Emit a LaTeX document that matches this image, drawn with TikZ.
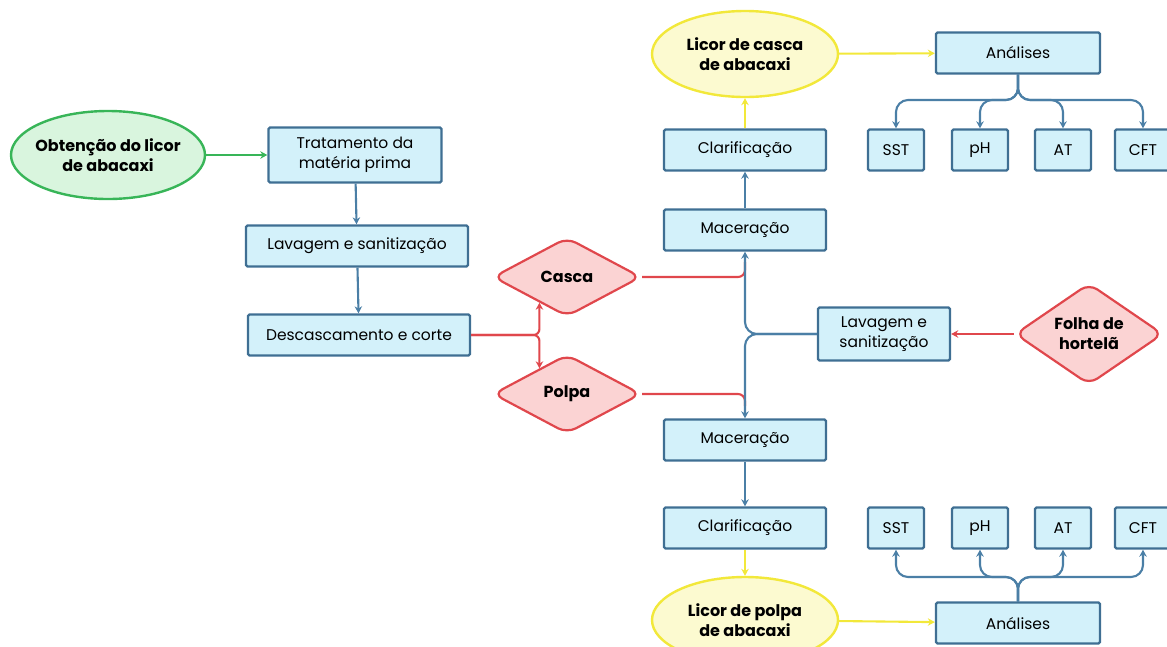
\documentclass[tikz,border=0pt]{standalone}
\usepackage{fontspec}
\setsansfont{Poppins}
\usepackage{xcolor}
\usepackage{tikz}
\usetikzlibrary{arrows.meta,calc,positioning,shapes.geometric}
\definecolor{lcBlue}{HTML}{3F6F93}
\definecolor{lcArrow}{HTML}{4B7FA6}
\definecolor{lcSky}{HTML}{D3F1FA}
\definecolor{lcRed}{HTML}{E0474C}
\definecolor{lcRose}{HTML}{FBD3D3}
\definecolor{lcGreen}{HTML}{38B558}
\definecolor{lcMint}{HTML}{D9F5DE}
\definecolor{lcYellow}{HTML}{F2E83A}
\definecolor{lcCream}{HTML}{FCFAD0}
\newcommand{\lcfont}{\sffamily\fontsize{15.5}{20}\selectfont}
\newcommand{\lcbold}{\sffamily\fontsize{16}{20}\selectfont\bfseries}
\tikzset{
  lcbox/.style={
    rectangle,
    rounded corners=1.5pt,
    draw=lcBlue,
    fill=lcSky,
    line width=2.4pt,
    align=center,
    inner sep=0pt,
    minimum height=41pt,
    font=\lcfont
  },
  lcleaf/.style={
    diamond,
    rounded corners=10pt,
    draw=lcRed,
    fill=lcRose,
    line width=2.2pt,
    align=center,
    inner sep=0pt,
    minimum width=148pt,
    minimum height=79pt,
    font=\lcbold
  },
  lcoval/.style={
    ellipse,
    draw=#1,
    fill=#1!20,
    line width=2.4pt,
    align=center,
    inner xsep=-8pt,
    inner ysep=0pt,
    minimum width=186pt,
    minimum height=86pt,
    font=\lcbold
  },
  lcarrow/.style={-{Stealth[length=7pt,width=7.5pt]}, line width=2.1pt, draw=#1},
  lcline/.style={line width=2.1pt, draw=#1}
}

\begin{document}
\begin{tikzpicture}[x=1pt,y=-1pt,font=\sffamily]
  \useasboundingbox (0,0) rectangle (1167,646);

  % left column
  \node[lcoval=lcGreen, fill=lcMint, minimum width=194pt, minimum height=88pt] (obtencao) at (108,155) {Obtenção do licor\\de abacaxi};
  \node[lcbox, minimum width=173pt, minimum height=55pt] (tratamento) at (355,155) {Tratamento da\\matéria prima};
  \node[lcbox, minimum width=222pt] (lavagem) at (357,246) {Lavagem e sanitização};
  \node[lcbox, minimum width=222pt] (descasca) at (359,335) {Descascamento e corte};

  \node[lcleaf] (casca) at (567,277) {Casca};
  \node[lcleaf] (polpa) at (567,394) {Polpa};

  % middle column
  \node[lcoval=lcYellow, fill=lcCream] (licorcasca) at (745,54) {Licor de casca\\de abacaxi};
  \node[lcbox, minimum width=162pt] (clarcasca) at (745,150) {Clarificação};
  \node[lcbox, minimum width=162pt] (maccasca) at (745,230) {Maceração};
  \node[lcbox, minimum width=162pt] (macpolpa) at (745,440) {Maceração};
  \node[lcbox, minimum width=162pt] (clarpolpa) at (745,528) {Clarificação};
  \node[lcoval=lcYellow, fill=lcCream] (licorpolpa) at (745,620) {Licor de polpa\\de abacaxi};

  \node[lcbox, minimum width=132pt, minimum height=53pt] (lavhortela) at (884,334) {Lavagem e\\sanitização};
  \node[lcleaf, minimum height=81pt] (hortela) at (1089,334) {Folha de\\hortelã};

  % analyses
  \node[lcbox, minimum width=164pt] (anacasca) at (1018,53) {Análises};
  \node[lcbox, minimum width=164pt] (anapolpa) at (1018,623) {Análises};
  \foreach \nm/\xx/\txt in {sst/896/SST, ph/980/pH, at/1063/AT, cft/1143/CFT} {
    \node[lcbox, minimum width=56pt] (\nm casca) at (\xx,150) {\txt};
    \node[lcbox, minimum width=56pt] (\nm polpa) at (\xx,528) {\txt};
  }
  \coordinate (buscasca) at (1018,100);
  \coordinate (buspolpa) at (1018,577);
  \coordinate (joincasca) at (745,262);
  \coordinate (joinpolpa) at (745,406);

  % connectors
  \draw[lcarrow=lcGreen] (obtencao) -- (tratamento);
  \draw[lcarrow=lcArrow] (tratamento) -- (lavagem);
  \draw[lcarrow=lcArrow] (lavagem) -- (descasca);
  \draw[lcarrow=lcRed, rounded corners=6pt] (descasca.east) -| (casca.223);
  \draw[lcarrow=lcRed, rounded corners=6pt] (descasca.east) -| (polpa.137);
  \draw[lcline=lcRed, rounded corners=7pt] (casca.east) -| (joincasca);
  \draw[lcline=lcRed, rounded corners=7pt] (polpa.east) -| (joinpolpa);
  \draw[lcarrow=lcRed] (hortela) -- (lavhortela);
  \draw[lcarrow=lcArrow, rounded corners=12pt] (lavhortela.west) -| (maccasca.south);
  \draw[lcarrow=lcArrow, rounded corners=12pt] (lavhortela.west) -| (macpolpa.north);
  \draw[lcarrow=lcArrow] (maccasca) -- (clarcasca);
  \draw[lcarrow=lcArrow, line width=2.6pt] (macpolpa) -- (clarpolpa);
  \draw[lcarrow=lcYellow] (clarcasca) -- (licorcasca);
  \draw[lcarrow=lcYellow] (clarpolpa) -- (licorpolpa);
  \draw[lcarrow=lcYellow] (licorcasca) -- (anacasca);
  \draw[lcarrow=lcYellow] (licorpolpa) -- (anapolpa);
  \foreach \nm in {sst,ph,at,cft} {
    \draw[lcarrow=lcArrow, rounded corners=12pt] (anacasca.south) -- (anacasca.south |- buscasca) -| (\nm casca.north);
    \draw[lcarrow=lcArrow, rounded corners=12pt] (anapolpa.north) -- (anapolpa.north |- buspolpa) -| (\nm polpa.south);
  }
\end{tikzpicture}
\end{document}
